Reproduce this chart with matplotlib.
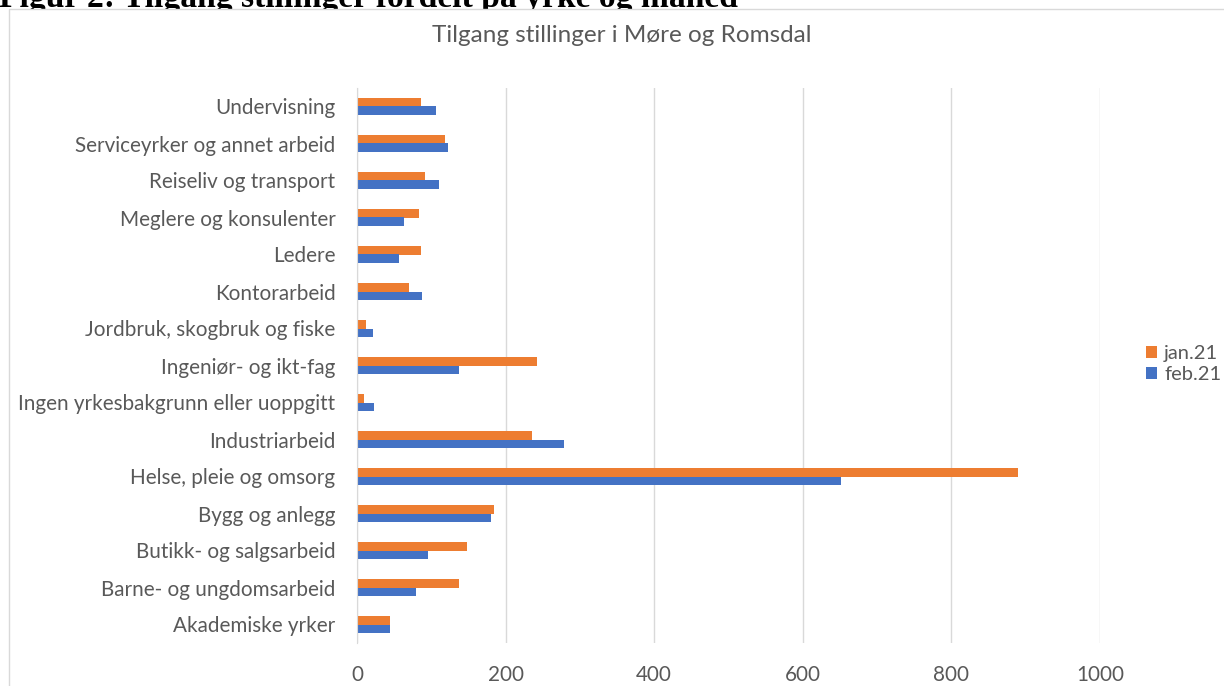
import matplotlib
matplotlib.use("Agg")
from matplotlib import pyplot as plt
from matplotlib.patches import Rectangle
import numpy as np

categories = ["Akademiske yrker", "Barne- og ungdomsarbeid", "Butikk- og salgsarbeid",
              "Bygg og anlegg", "Helse, pleie og omsorg", "Industriarbeid",
              "Ingen yrkesbakgrunn eller uoppgitt", "Ingeniør- og ikt-fag",
              "Jordbruk, skogbruk og fiske", "Kontorarbeid", "Ledere",
              "Meglere og konsulenter", "Reiseliv og transport",
              "Serviceyrker og annet arbeid", "Undervisning"]
jan21 = [45, 137, 148, 185, 890, 236, 9, 242, 12, 70, 86, 83, 91, 119, 86]
feb21 = [45, 80, 96, 180, 652, 279, 23, 137, 22, 88, 57, 63, 111, 122, 106]
xticks = [0, 200, 400, 600, 800, 1000]

W, H = 1224, 686
plt.rcParams['font.family'] = ['Lato', 'DejaVu Sans']
grey = '#595959'

fig = plt.figure(figsize=(W / 100, H / 100), dpi=100)
fig.patch.set_facecolor('white')

# caption above the chart, partly hidden by the chart box (as in the source)
fig.text(-1 / W, 1 - 7.5 / H, "Figur 2: Tilgang stillinger fordelt på yrke og måned",
         family=['Liberation Serif', 'DejaVu Serif'], weight='bold', fontsize=24.2,
         ha='left', va='baseline', color='black', zorder=-3)
box = Rectangle((9 / W, -0.1), 1.2, 1 - 9 / H + 0.1, transform=fig.transFigure,
                facecolor='white', edgecolor='#d9d9d9', linewidth=1, zorder=-2)
fig.add_artist(box)

ax = fig.add_axes([357 / W, 1 - 643 / H, (1100 - 357) / W, (643 - 88) / H])
ax.set_facecolor('none')

y = np.arange(len(categories))
h = 0.23
ax.barh(y + h / 2, jan21, height=h, color='#ED7D31', label='jan.21', zorder=3)
ax.barh(y - h / 2, feb21, height=h, color='#4472C4', label='feb.21', zorder=3)

ax.set_xlim(0, 1000)
ax.set_ylim(-0.5, len(categories) - 0.5)
ax.set_yticks(y)
ax.set_yticklabels(categories)
ax.set_xticks(xticks)
ax.grid(axis='x', color='#d9d9d9', linewidth=1, zorder=0)
for s in ['top', 'right', 'bottom']:
    ax.spines[s].set_visible(False)
ax.spines['left'].set_color('#d9d9d9')
ax.spines['left'].set_zorder(4)
ax.tick_params(axis='both', length=0, labelcolor=grey, labelsize=14.9)
ax.tick_params(axis='y', pad=15.5)
ax.tick_params(axis='x', pad=16)

fig.text(622 / W, 1 - 36 / H, "Tilgang stillinger i Møre og Romsdal",
         ha='center', va='center', color=grey, fontsize=17.5)

ax.legend(loc='center left', bbox_to_anchor=(1146 / W, 1 - 364 / H),
          bbox_transform=fig.transFigure, frameon=False, fontsize=14.5,
          labelcolor=grey, handlelength=0.55, handleheight=0.55,
          handletextpad=0.35, labelspacing=0.22, borderpad=0, borderaxespad=0)

fig.savefig('out.png', dpi=100)
